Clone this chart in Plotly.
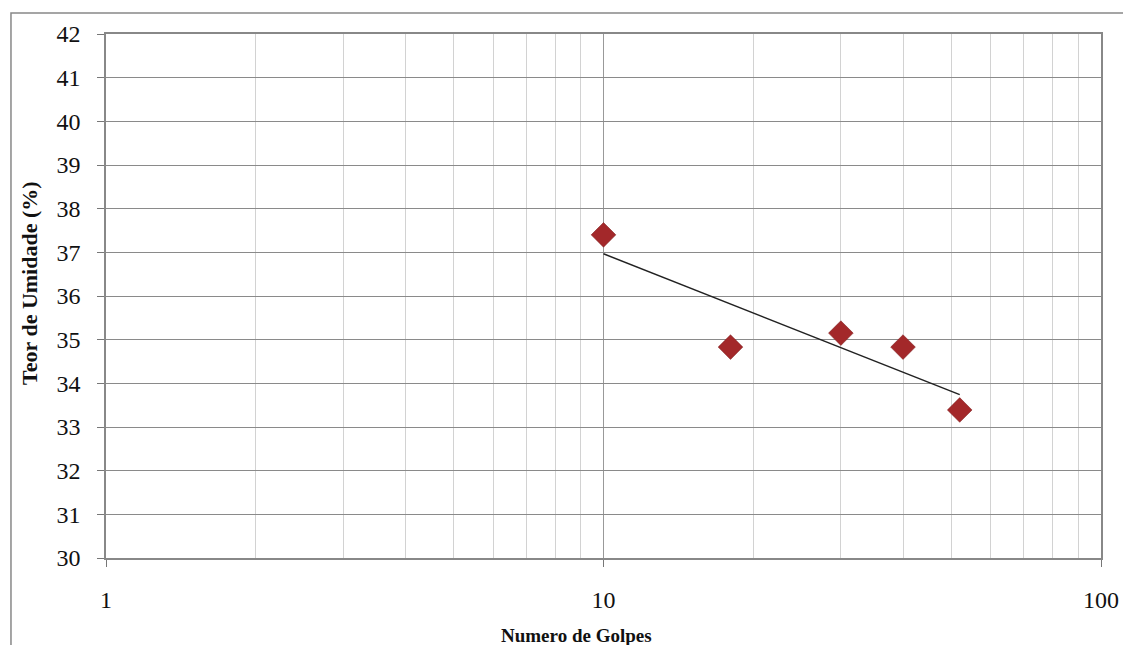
import numpy as np
import plotly.graph_objects as go

# Data
golpes = [10, 18, 30, 40, 52]
umidade = [37.40, 34.83, 35.15, 34.83, 33.39]
x_ticks = [1, 10, 100]
y_ticks = list(range(30, 43))

# Logarithmic trendline (as in the spreadsheet chart)
b, a = np.polyfit(np.log(golpes), umidade, 1)
trend_x = [min(golpes), max(golpes)]
trend_y = [a + b * np.log(v) for v in trend_x]

fig = go.Figure()
fig.add_trace(go.Scatter(
    x=golpes, y=umidade, mode="markers",
    marker=dict(symbol="diamond", size=19, color="#A3282A",
                line=dict(width=0.5, color="#7a1d1d")),
    showlegend=False,
))
fig.add_trace(go.Scatter(
    x=trend_x, y=trend_y, mode="lines",
    line=dict(color="#222222", width=1.5),
    showlegend=False,
))

font_family = "Liberation Serif, Times New Roman, serif"
fig.update_layout(
    width=1131, height=645,
    margin=dict(l=98, r=38, t=26, b=95, autoexpand=False),
    paper_bgcolor="white", plot_bgcolor="white",
    font=dict(family=font_family, color="#111111"),
    xaxis=dict(
        type="log", range=[0, 2],
        tickvals=x_ticks, ticktext=[str(v) for v in x_ticks],
        tickfont=dict(size=24, family=font_family, color="#111"),
        ticks="outside", ticklen=7, tickcolor="#777",
        ticklabelstandoff=12,
        showline=True, linecolor="#888", linewidth=1.5, mirror=True,
        showgrid=True, gridcolor="#999", gridwidth=1,
        minor=dict(showgrid=True, gridcolor="#d2d2d2", gridwidth=1, dtick="D1", ticks=""),
        zeroline=False,
    ),
    yaxis=dict(
        range=[30, 42], tickvals=y_ticks,
        tickfont=dict(size=24, family=font_family, color="#111"),
        ticks="outside", ticklen=7, tickcolor="#777",
        ticklabelstandoff=12,
        showline=True, linecolor="#888", linewidth=1.5, mirror=True,
        showgrid=True, gridcolor="#8a8a8a", gridwidth=1.2,
        zeroline=False,
    ),
    annotations=[
        dict(text="<b>Teor de Umidade (%)</b>", textangle=-90,
             xref="paper", yref="paper", x=-0.0764, y=0.525,
             xanchor="center", yanchor="middle", showarrow=False,
             font=dict(size=22, family=font_family, color="#111")),
        dict(text="<b>Numero de Golpes</b>",
             xref="paper", yref="paper", x=0.4724, y=-0.147,
             xanchor="center", yanchor="middle", showarrow=False,
             font=dict(size=19, family=font_family, color="#111")),
    ],
    shapes=[dict(type="rect", xref="paper", yref="paper",
                 x0=-0.0955, x1=1.06, y0=-0.3, y1=1.0401,
                 line=dict(color="#888", width=1.5), layer="below")],
)

fig.write_html("out.html")
